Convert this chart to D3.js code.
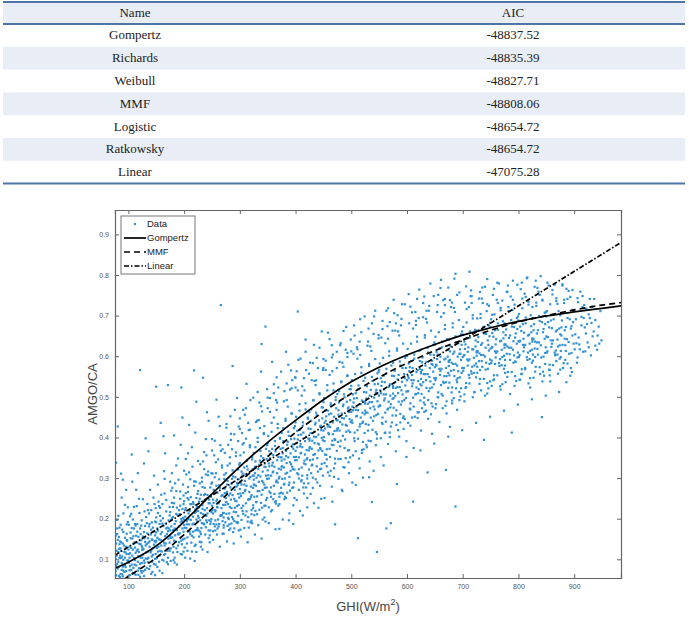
<!DOCTYPE html>
<html>
<head>
<meta charset="utf-8">
<script src="https://cdn.jsdelivr.net/npm/d3@7/dist/d3.min.js"></script>
<style>
  body { margin: 0; background: #fff; }
</style>
</head>
<body>
<svg id="chart" width="689" height="617"></svg>
<script>
// table
const modelNames = ["Gompertz", "Richards", "Weibull", "MMF", "Logistic", "Ratkowsky", "Linear"];
const modelAIC = ["-48837.52", "-48835.39", "-48827.71", "-48808.06", "-48654.72", "-48654.72", "-47075.28"];

// fitted curves: [GHI, AMGO/CA]
const gompertzCurve = [[76,.078],[100,.093],[125,.111],[150,.133],[175,.161],[200,.193],[250,.261],[300,.328],[350,.388],[400,.442],[450,.493],[500,.537],[550,.573],[600,.603],[650,.629],[700,.652],[750,.670],[800,.686],[850,.699],[900,.709],[950,.718],[984,.724]];
const mmfCurve = [[76,.036],[100,.058],[125,.080],[150,.104],[175,.131],[200,.161],[250,.225],[300,.290],[350,.353],[400,.412],[450,.463],[500,.508],[550,.548],[600,.583],[650,.614],[700,.640],[750,.664],[800,.684],[850,.700],[900,.714],[950,.726],[984,.732]];
const linearCurve = [[76,.110],[984,.880]];

// scatter, estimated from the figure: [GHI, AMGO/CA]
const dataPoints = [
[77,.071],[92,.134],[84,.103],[99,.058],[80,.162],[88,.091],[95,.117],[78,.139],[86,.064],[97,.186],[83,.126],[90,.082],[79,.109],[94,.153],[87,.121],[81,.077],[98,.097],[85,.144],[91,.213],[76,.088],[93,.069],[89,.173],[82,.118],[96,.131],[88,.252],[80,.197],[94,.104],[99,.228],[85,.056],[91,.099],[78,.338],[97,.147],[83,.082],[81,.427],[90,.296],[77,.158],[86,.185],
[123,.071],[104,.152],[117,.094],[101,.113],[112,.187],[108,.066],[120,.138],[103,.083],[115,.121],[110,.229],[125,.104],[106,.177],[118,.062],[102,.131],[114,.158],[121,.089],[107,.109],[111,.142],[124,.196],[105,.074],[116,.168],[100,.097],[113,.116],[119,.249],[109,.138],[122,.162],[103,.206],[117,.312],[106,.358],[111,.087],[121,.566],[114,.271],[101,.185],[108,.124],[124,.133],[119,.078],
[128,.097],[141,.173],[135,.119],[149,.142],[126,.156],[146,.088],[132,.204],[138,.131],[144,.111],[130,.182],[147,.236],[137,.076],[142,.149],[127,.125],[134,.164],[148,.193],[131,.102],[139,.271],[145,.128],[129,.218],[136,.141],[143,.094],[150,.166],[133,.138],[140,.117],[126,.248],[146,.306],[131,.398],[138,.187],[143,.069],[128,.336],[135,.152],[149,.113],[141,.221],[133,.079],
[153,.171],[166,.113],[158,.148],[172,.196],[151,.128],[169,.162],[161,.236],[155,.094],[174,.141],[163,.182],[157,.207],[170,.121],[152,.153],[165,.262],[159,.134],[173,.176],[156,.109],[168,.218],[162,.145],[150,.191],[171,.088],[160,.167],[154,.242],[167,.139],[175,.158],[158,.436],[164,.317],[150,.525],[171,.529],[153,.284],[166,.361],[161,.099],[174,.229],[156,.187],[169,.124],
[178,.201],[191,.142],[183,.176],[197,.224],[176,.153],[194,.191],[186,.268],[180,.117],[199,.168],[188,.209],[182,.238],[195,.146],[177,.181],[190,.296],[184,.159],[198,.202],[181,.131],[193,.249],[187,.172],[175,.216],[196,.112],[185,.194],[179,.276],[192,.164],[200,.185],[182,.405],[189,.348],[195,.523],[178,.312],[191,.221],[186,.127],[199,.257],[183,.104],[194,.382],[180,.229],
[203,.226],[216,.168],[208,.199],[222,.251],[201,.178],[219,.214],[211,.297],[205,.139],[224,.192],[213,.236],[207,.266],[220,.171],[202,.205],[215,.328],[209,.186],[223,.229],[206,.154],[218,.281],[212,.197],[200,.243],[221,.136],[210,.219],[204,.309],[217,.188],[225,.207],[209,.431],[214,.376],[218,.565],[203,.347],[222,.118],[211,.162],[206,.251],[220,.412],[216,.241],[201,.129],
[228,.249],[241,.191],[233,.224],[247,.277],[226,.202],[244,.238],[236,.322],[230,.162],[249,.216],[238,.261],[232,.291],[245,.196],[227,.228],[240,.356],[234,.211],[248,.254],[231,.177],[243,.307],[237,.221],[225,.268],[246,.159],[235,.244],[229,.334],[242,.213],[250,.232],[234,.547],[239,.396],[241,.462],[228,.143],[247,.187],[233,.278],[244,.441],[236,.186],[230,.259],[249,.312],
[253,.271],[266,.209],[258,.243],[272,.298],[251,.221],[269,.258],[261,.346],[255,.181],[274,.234],[263,.282],[257,.312],[270,.214],[252,.247],[265,.381],[259,.229],[273,.274],[256,.196],[268,.331],[262,.238],[250,.289],[271,.178],[260,.264],[254,.356],[267,.226],[275,.251],[266,.726],[258,.493],[264,.428],[252,.169],[271,.203],[256,.221],[263,.187],[269,.194],[259,.161],[273,.362],[255,.302],
[278,.293],[291,.227],[283,.262],[297,.321],[276,.241],[294,.279],[286,.371],[280,.199],[299,.252],[288,.304],[282,.336],[295,.231],[277,.266],[290,.408],[284,.247],[298,.297],[281,.213],[293,.354],[287,.258],[275,.312],[296,.192],[285,.286],[279,.382],[292,.244],[300,.273],[287,.576],[283,.452],[295,.497],[278,.182],[290,.176],[286,.204],[298,.171],[281,.186],[293,.216],[288,.167],[276,.424],[297,.391],
[303,.316],[316,.248],[308,.284],[322,.346],[301,.262],[319,.303],[311,.397],[305,.219],[324,.276],[313,.329],[307,.363],[320,.253],[302,.289],[315,.436],[309,.268],[323,.322],[306,.232],[318,.381],[312,.281],[300,.337],[321,.211],[310,.309],[304,.411],[317,.266],[325,.296],[312,.532],[319,.492],[306,.468],[314,.193],[322,.189],[303,.197],[316,.178],[309,.456],[324,.226],[301,.173],
[328,.341],[341,.271],[333,.307],[347,.372],[326,.284],[344,.328],[336,.423],[330,.241],[349,.298],[338,.354],[332,.389],[345,.276],[327,.312],[340,.464],[334,.291],[348,.347],[331,.255],[343,.408],[337,.304],[325,.362],[346,.232],[335,.333],[329,.438],[342,.289],[350,.319],[339,.630],[346,.673],[338,.562],[332,.512],[344,.203],[328,.219],[341,.198],[335,.486],[349,.251],[326,.209],
[353,.366],[366,.294],[358,.331],[372,.397],[351,.307],[369,.352],[361,.449],[355,.263],[374,.321],[363,.379],[357,.414],[370,.299],[352,.336],[365,.492],[359,.314],[373,.372],[356,.277],[368,.433],[362,.328],[350,.386],[371,.254],[360,.357],[354,.463],[367,.312],[375,.343],[358,.586],[366,.548],[371,.175],[363,.241],[352,.228],[369,.523],[356,.218],[374,.264],[361,.509],[365,.237],
[378,.391],[391,.318],[383,.354],[397,.423],[376,.329],[394,.377],[386,.476],[380,.286],[399,.344],[388,.404],[382,.441],[395,.322],[377,.361],[390,.518],[384,.337],[398,.397],[381,.299],[393,.459],[387,.351],[375,.411],[396,.277],[385,.382],[379,.489],[392,.334],[400,.367],[383,.611],[392,.565],[388,.196],[396,.233],[380,.248],[394,.541],[377,.262],[389,.289],[398,.251],[384,.533],
[403,.416],[416,.343],[408,.378],[422,.449],[401,.352],[419,.402],[411,.503],[405,.309],[424,.368],[413,.429],[407,.466],[420,.346],[402,.386],[415,.546],[409,.361],[423,.422],[406,.322],[418,.484],[412,.376],[400,.437],[421,.299],[410,.407],[404,.516],[417,.358],[425,.392],[404,.710],[418,.641],[409,.594],[413,.208],[421,.251],[406,.271],[423,.287],[415,.262],[402,.563],[419,.566],[411,.295],
[428,.441],[441,.368],[433,.402],[447,.474],[426,.376],[444,.427],[436,.529],[430,.333],[449,.393],[438,.455],[432,.491],[445,.371],[427,.411],[440,.571],[434,.386],[448,.447],[431,.346],[443,.509],[437,.401],[425,.462],[446,.323],[435,.432],[429,.541],[442,.383],[450,.417],[433,.628],[447,.661],[441,.227],[436,.297],[428,.312],[444,.281],[431,.276],[449,.306],[438,.596],[426,.584],
[453,.466],[466,.392],[458,.427],[472,.499],[451,.401],[469,.451],[461,.554],[455,.357],[474,.417],[463,.479],[457,.516],[470,.396],[452,.436],[465,.597],[459,.411],[473,.472],[456,.371],[468,.533],[462,.426],[450,.487],[471,.348],[460,.457],[454,.566],[467,.408],[475,.442],[458,.658],[466,.242],[471,.186],[463,.318],[452,.337],[469,.303],[456,.329],[474,.611],[461,.306],[465,.627],
[478,.486],[491,.414],[483,.448],[497,.519],[476,.423],[494,.471],[486,.574],[480,.378],[499,.438],[488,.499],[482,.536],[495,.417],[477,.456],[490,.616],[484,.432],[498,.492],[481,.392],[493,.553],[487,.447],[475,.507],[496,.369],[485,.477],[479,.586],[492,.429],[500,.463],[484,.268],[491,.672],[488,.326],[477,.347],[495,.339],[481,.632],[498,.351],[486,.327],[493,.608],
[503,.506],[516,.433],[508,.468],[522,.539],[501,.442],[519,.491],[511,.594],[505,.398],[524,.457],[513,.519],[507,.556],[520,.436],[502,.476],[515,.636],[509,.452],[523,.512],[506,.412],[518,.573],[512,.467],[500,.527],[521,.389],[510,.497],[504,.606],[517,.449],[525,.483],[508,.283],[516,.691],[512,.152],[503,.356],[519,.362],[506,.651],[522,.371],[514,.348],[510,.622],
[528,.526],[541,.452],[533,.487],[547,.558],[526,.461],[544,.511],[536,.613],[530,.417],[549,.476],[538,.539],[532,.576],[545,.455],[527,.496],[540,.655],[534,.472],[548,.532],[531,.431],[543,.593],[537,.487],[525,.547],[546,.408],[535,.517],[529,.626],[542,.469],[550,.503],[532,.302],[541,.698],[546,.118],[537,.241],[528,.376],[544,.381],[535,.391],[549,.644],[531,.668],
[553,.546],[566,.471],[558,.506],[572,.577],[551,.479],[569,.531],[561,.632],[555,.436],[574,.495],[563,.558],[557,.596],[570,.474],[552,.516],[565,.674],[559,.491],[573,.552],[556,.449],[568,.612],[562,.506],[550,.566],[571,.427],[560,.536],[554,.646],[567,.488],[575,.522],[558,.331],[566,.718],[563,.176],[571,.189],[553,.398],[569,.401],[556,.687],[561,.412],[574,.663],
[578,.564],[591,.489],[583,.524],[597,.596],[576,.497],[594,.549],[586,.651],[580,.454],[599,.513],[588,.577],[582,.614],[595,.492],[577,.534],[590,.692],[584,.509],[598,.571],[581,.467],[593,.631],[587,.524],[575,.584],[596,.445],[585,.554],[579,.663],[592,.506],[600,.541],[582,.285],[599,.352],[591,.728],[584,.418],[577,.706],[594,.421],[588,.437],[580,.681],
[603,.582],[616,.507],[608,.541],[622,.613],[601,.514],[619,.566],[611,.668],[605,.471],[624,.531],[613,.594],[607,.631],[620,.509],[602,.551],[615,.709],[609,.526],[623,.588],[606,.484],[618,.648],[612,.541],[600,.601],[621,.462],[610,.571],[604,.681],[617,.523],[625,.558],[611,.242],[624,.368],[618,.741],[602,.436],[614,.451],[621,.694],[606,.722],[609,.449],
[628,.597],[641,.521],[633,.556],[647,.628],[626,.528],[644,.581],[636,.683],[630,.486],[649,.546],[638,.609],[632,.646],[645,.523],[627,.566],[640,.724],[634,.541],[648,.603],[631,.498],[643,.663],[637,.556],[625,.616],[646,.476],[635,.586],[629,.696],[642,.538],[650,.573],[637,.314],[649,.385],[631,.747],[643,.457],[627,.472],[639,.712],[634,.466],
[653,.611],[666,.534],[658,.569],[672,.642],[651,.541],[669,.594],[661,.697],[655,.499],[674,.559],[663,.622],[657,.659],[670,.536],[652,.579],[665,.738],[659,.554],[673,.616],[656,.511],[668,.677],[662,.569],[650,.629],[671,.489],[660,.599],[654,.709],[667,.551],[675,.586],[670,.320],[674,.402],[660,.768],[664,.472],[652,.482],[668,.726],[656,.751],
[678,.624],[691,.546],[683,.581],[697,.654],[676,.553],[694,.606],[686,.709],[680,.511],[699,.571],[688,.634],[682,.671],[695,.548],[677,.591],[690,.751],[684,.566],[698,.628],[681,.523],[693,.689],[687,.581],[675,.641],[696,.501],[685,.611],[679,.721],[692,.563],[700,.598],[687,.230],[699,.418],[685,.791],[681,.484],[694,.492],[677,.738],[690,.536],
[703,.636],[716,.557],[708,.592],[722,.665],[701,.564],[719,.617],[711,.721],[705,.522],[724,.582],[713,.646],[707,.683],[720,.559],[702,.602],[715,.762],[709,.577],[723,.639],[706,.534],[718,.701],[712,.592],[700,.653],[721,.512],[710,.622],[704,.732],[717,.574],[725,.609],[712,.808],[724,.436],[706,.772],[718,.499],[703,.506],[714,.748],
[728,.647],[741,.567],[733,.603],[747,.676],[726,.574],[744,.790],[736,.731],[730,.532],[749,.592],[738,.656],[732,.694],[745,.569],[727,.612],[740,.771],[734,.588],[748,.649],[731,.544],[743,.711],[737,.603],[725,.663],[746,.521],[735,.632],[729,.742],[742,.584],[750,.619],[738,.394],[749,.451],[731,.758],[744,.508],[733,.516],[747,.724],
[753,.657],[766,.576],[758,.612],[772,.686],[751,.583],[769,.638],[761,.739],[755,.541],[774,.601],[763,.665],[757,.703],[770,.578],[752,.621],[765,.779],[759,.597],[773,.659],[756,.553],[768,.719],[762,.612],[750,.672],[771,.531],[760,.642],[754,.751],[767,.593],[775,.628],[774,.466],[756,.766],[768,.518],[752,.527],[763,.731],
[778,.666],[791,.584],[783,.621],[797,.694],[776,.591],[794,.646],[786,.747],[780,.549],[799,.609],[788,.673],[782,.711],[795,.586],[777,.629],[790,.786],[784,.605],[798,.667],[781,.561],[793,.727],[787,.621],[775,.681],[796,.539],[785,.651],[779,.758],[792,.602],[800,.637],[788,.412],[799,.481],[781,.774],[793,.527],[777,.536],[790,.739],
[803,.673],[816,.591],[808,.628],[822,.701],[801,.598],[819,.653],[811,.754],[805,.556],[824,.616],[813,.681],[807,.718],[820,.593],[802,.636],[815,.792],[809,.612],[823,.674],[806,.568],[818,.734],[812,.628],[800,.688],[821,.546],[810,.658],[804,.765],[817,.609],[825,.644],[824,.494],[806,.781],[818,.533],[802,.542],[813,.746],
[828,.679],[841,.597],[833,.634],[847,.707],[826,.604],[844,.659],[836,.759],[830,.562],[849,.622],[838,.687],[832,.724],[845,.599],[827,.642],[840,.797],[834,.618],[848,.679],[831,.574],[843,.739],[837,.634],[825,.694],[846,.552],[835,.664],[829,.771],[842,.450],[850,.649],[849,.503],[831,.786],[843,.538],[827,.547],[838,.751],
[853,.684],[866,.602],[858,.639],[872,.711],[851,.609],[869,.664],[861,.763],[855,.567],[874,.627],[863,.691],[857,.728],[870,.604],[852,.647],[865,.776],[859,.623],[873,.512],[856,.579],[868,.743],[862,.639],[850,.698],[871,.557],[860,.669],[854,.774],[867,.614],[875,.654],[856,.553],[868,.588],
[878,.688],[891,.606],[883,.643],[897,.714],[876,.613],[894,.668],[886,.766],[880,.571],[899,.631],[888,.694],[882,.731],[895,.608],[877,.651],[890,.761],[884,.627],[898,.684],[881,.583],[893,.746],[887,.642],[875,.701],[896,.561],[885,.672],[879,.777],[886,.536],
[903,.691],[916,.611],[908,.646],[922,.717],[901,.617],[919,.671],[911,.759],[905,.584],[924,.634],[913,.697],[907,.733],[920,.612],[902,.654],[915,.748],[909,.629],[923,.679],[906,.597],[918,.726],
[928,.694],[941,.616],[933,.649],[947,.711],[926,.622],[944,.673],[936,.741],[930,.602],[949,.639],[938,.689],[932,.722],[945,.631],[935,.661],
[79,.121],[95,.081],[83,.059],[91,.167],[87,.103],[76,.133],[98,.146],[82,.094],[89,.063],[93,.118],[80,.089],[96,.071],[84,.178],[90,.139],[77,.101],[97,.113],[86,.127],[92,.085],[81,.148],[99,.192],[88,.074],[94,.234],[85,.109],[78,.061],[96,.271],[83,.155],[90,.058],[87,.311],
[102,.073],[119,.118],[107,.151],[113,.062],[124,.091],[105,.128],[110,.103],[121,.176],[116,.141],[101,.092],[123,.147],[108,.198],[114,.085],[104,.166],[118,.108],[111,.065],[125,.123],[106,.087],[120,.214],[112,.129],[103,.115],[117,.072],[109,.157],[122,.104],[115,.231],[107,.291],[121,.057],[113,.183],
[126,.112],[139,.083],[148,.159],[131,.134],[144,.178],[127,.071],[136,.104],[149,.087],[133,.189],[141,.121],[129,.152],[146,.136],[137,.213],[128,.167],[143,.148],[132,.117],[150,.203],[135,.093],[140,.161],[125,.129],[145,.252],[138,.144],[130,.074],[147,.168],[134,.236],[142,.107],[136,.366],[148,.061],
[154,.131],[167,.188],[151,.103],[172,.151],[160,.119],[157,.227],[170,.178],[163,.097],[152,.176],[174,.208],[165,.134],[158,.162],[169,.093],[155,.149],[173,.126],[162,.201],[150,.146],[166,.157],[159,.259],[171,.169],[164,.111],[156,.072],[168,.246],[153,.214],[161,.188],[175,.291],[157,.121],[163,.403],
[179,.154],[192,.211],[176,.127],[197,.176],[185,.143],[182,.252],[195,.199],[188,.118],[177,.197],[199,.236],[190,.161],[183,.187],[194,.113],[180,.172],[198,.149],[187,.227],[175,.171],[191,.181],[184,.287],[196,.194],[189,.134],[181,.098],[193,.267],[178,.239],[186,.212],[200,.318],[182,.146],[197,.449],
[204,.177],[217,.236],[201,.151],[222,.198],[210,.168],[207,.278],[220,.223],[213,.141],[202,.221],[224,.261],[215,.186],[208,.213],[219,.133],[205,.194],[223,.172],[212,.253],[200,.198],[216,.205],[209,.314],[221,.217],[214,.158],[206,.121],[218,.292],[203,.263],[211,.236],[225,.342],[207,.169],[222,.488],
[229,.196],[242,.258],[226,.171],[247,.219],[235,.188],[232,.301],[245,.247],[238,.161],[227,.242],[249,.286],[240,.207],[233,.233],[244,.152],[230,.214],[248,.193],[237,.276],[225,.219],[241,.226],[234,.341],[246,.238],[239,.179],[231,.142],[243,.316],[228,.287],[236,.258],[250,.368],[232,.189],[247,.171],[240,.196],[229,.168],
[271,.214],[258,.281],[274,.191],[253,.239],[265,.207],[268,.326],[255,.269],[262,.181],[273,.263],[251,.311],[260,.228],[267,.256],[256,.171],[270,.234],[252,.213],[263,.297],[275,.241],[259,.247],[266,.367],[254,.261],[261,.198],[269,.163],[257,.339],[272,.308],[264,.276],[250,.396],[268,.208],[253,.187],[260,.176],[271,.184],[256,.218],
[279,.236],[292,.302],[276,.212],[297,.261],[285,.226],[282,.351],[295,.288],[288,.199],[277,.284],[299,.333],[290,.249],[283,.277],[294,.191],[280,.257],[298,.234],[287,.319],[275,.263],[291,.271],[284,.394],[296,.283],[289,.217],[281,.172],[293,.363],[278,.331],[286,.298],[300,.421],[282,.229],[297,.207],[290,.194],[279,.202],[294,.243],[285,.188],
[321,.258],[308,.326],[324,.233],[303,.284],[315,.247],[318,.376],[305,.311],[312,.218],[323,.306],[301,.356],[310,.271],[317,.299],[306,.212],[320,.279],[302,.256],[313,.343],[325,.284],[309,.293],[316,.418],[304,.304],[311,.238],[319,.191],[307,.386],[322,.352],[314,.321],[300,.447],[318,.248],[303,.226],[310,.208],[321,.221],[306,.263],[315,.204],
[329,.281],[342,.349],[326,.254],[347,.306],[335,.268],[332,.399],[345,.336],[338,.239],[327,.328],[349,.381],[340,.293],[333,.322],[344,.232],[330,.301],[348,.277],[337,.367],[325,.306],[341,.316],[334,.443],[346,.327],[339,.259],[331,.211],[343,.411],[328,.376],[336,.343],[350,.472],[332,.268],[347,.246],[340,.227],[329,.241],[344,.284],[335,.222],
[371,.303],[358,.372],[374,.276],[353,.329],[365,.291],[368,.423],[355,.359],[362,.261],[373,.351],[351,.404],[360,.316],[367,.344],[356,.254],[370,.323],[352,.299],[363,.391],[375,.328],[359,.338],[366,.468],[354,.349],[361,.281],[369,.232],[357,.436],[372,.399],[364,.366],[350,.498],[368,.289],[353,.267],[360,.248],[371,.262],[356,.306],[365,.243],
[379,.326],[392,.396],[376,.298],[397,.352],[385,.313],[382,.446],[395,.383],[388,.283],[377,.374],[399,.428],[390,.339],[383,.367],[394,.276],[380,.346],[398,.321],[387,.414],[375,.351],[391,.361],[384,.492],[396,.372],[389,.303],[381,.254],[393,.459],[378,.423],[386,.389],[400,.523],[382,.311],[397,.289],[390,.269],[379,.284],[394,.328],[385,.264],
[421,.349],[408,.419],[424,.321],[403,.376],[415,.336],[418,.469],[405,.406],[412,.306],[423,.397],[401,.451],[410,.362],[417,.391],[406,.299],[420,.369],[402,.344],[413,.437],[425,.374],[409,.384],[416,.516],[404,.395],[411,.326],[419,.277],[407,.482],[422,.446],[414,.412],[400,.547],[418,.334],[403,.312],[410,.292],[421,.307],[406,.351],[415,.287],
[429,.372],[442,.442],[426,.344],[447,.399],[435,.359],[432,.492],[445,.429],[438,.329],[427,.421],[449,.474],[440,.385],[433,.414],[444,.322],[430,.392],[448,.367],[437,.461],[425,.397],[441,.407],[434,.539],[446,.418],[439,.349],[431,.301],[443,.506],[428,.469],[436,.436],[450,.571],[432,.357],[447,.335],[440,.316],[429,.331],[444,.374],
[471,.394],[458,.466],[474,.367],[453,.422],[465,.382],[468,.516],[455,.452],[462,.352],[473,.444],[451,.497],[460,.408],[467,.437],[456,.346],[470,.416],[452,.391],[463,.484],[475,.421],[459,.431],[466,.563],[454,.441],[461,.372],[469,.324],[457,.529],[472,.492],[464,.459],[450,.593],[468,.381],[453,.358],
[479,.417],[492,.488],[476,.389],[497,.445],[485,.404],[482,.538],[495,.474],[488,.374],[477,.467],[499,.519],[490,.431],[483,.459],[494,.368],[480,.438],[498,.413],[487,.506],[475,.443],[491,.453],[484,.584],[496,.463],[489,.395],[481,.347],[493,.551],[478,.514],[486,.481],[500,.612],
[521,.439],[508,.509],[524,.411],[503,.467],[515,.427],[518,.559],[505,.496],[512,.397],[523,.488],[501,.541],[510,.453],[517,.482],[506,.391],[520,.461],[502,.436],[513,.528],[525,.466],[509,.476],[516,.603],[504,.486],[511,.418],[519,.369],
[529,.461],[542,.531],[526,.433],[547,.489],[535,.449],[532,.581],[545,.517],[538,.419],[527,.511],[549,.562],[540,.476],[533,.503],[544,.413],[530,.483],[548,.458],[537,.549],[525,.488],[541,.498],[534,.624],[546,.508],[539,.441],[531,.392],
[571,.482],[558,.552],[574,.454],[553,.509],[565,.469],[568,.601],[555,.537],[562,.439],[573,.531],[551,.582],[560,.496],[567,.524],[556,.433],[570,.503],[552,.478],[563,.569],[575,.508],[559,.518],[566,.643],[554,.527],[561,.461],[569,.412],
[579,.502],[592,.571],[576,.473],[597,.528],[585,.488],[582,.619],[595,.556],[588,.458],[577,.551],[599,.601],[590,.516],[583,.543],[594,.452],[580,.522],[598,.497],[587,.587],[575,.527],[591,.537],[584,.661],[596,.546],[589,.481],[581,.431],
[621,.519],[608,.588],[624,.491],[603,.546],[615,.506],[618,.636],[605,.573],[612,.476],[623,.569],[601,.618],[610,.533],[617,.561],[606,.469],[620,.539],[602,.514],[613,.604],[625,.544],[609,.554],[616,.677],[604,.563],[611,.498],[619,.448],
[629,.536],[642,.604],[626,.507],[647,.562],[635,.522],[632,.652],[645,.589],[638,.492],[627,.585],[649,.634],[640,.549],[633,.577],[644,.484],[630,.556],[648,.531],[637,.621],[625,.561],[641,.571],[634,.692],[646,.579],[639,.514],[631,.463],
[671,.551],[658,.619],[674,.522],[653,.577],[665,.537],[668,.667],[655,.604],[662,.507],[673,.599],[651,.648],[660,.564],[667,.592],[656,.499],[670,.571],[652,.546],[663,.636],[675,.576],[659,.586],[666,.706],[654,.593],[661,.529],[669,.478],
[679,.564],[692,.632],[676,.535],[697,.591],[685,.551],[682,.681],[695,.617],[688,.521],[677,.612],[699,.661],[690,.577],[683,.606],[694,.512],[680,.584],[698,.559],[687,.649],[675,.589],[691,.599],[684,.719],[696,.606],[689,.542],[681,.491],
[721,.577],[708,.644],[724,.548],[703,.603],[715,.563],[718,.693],[705,.629],[712,.533],[723,.624],[701,.672],[710,.589],[717,.617],[706,.524],[720,.596],[702,.571],[713,.661],[725,.601],[709,.611],[716,.731],[704,.618],[711,.554],
[729,.588],[742,.655],[726,.559],[747,.614],[735,.574],[732,.704],[745,.639],[738,.544],[727,.635],[749,.682],[740,.599],[733,.628],[744,.534],[730,.607],[748,.581],[737,.672],[725,.612],[741,.621],[734,.742],[746,.628],
[771,.598],[758,.664],[774,.569],[753,.623],[765,.583],[768,.713],[755,.648],[762,.553],[773,.644],[751,.691],[760,.608],[767,.637],[756,.543],[770,.616],[752,.589],[763,.681],[775,.621],[759,.629],
[779,.606],[792,.672],[776,.577],[797,.631],[785,.591],[782,.721],[795,.656],[788,.561],[777,.652],[799,.698],[790,.616],[783,.645],[794,.551],[780,.624],[798,.597],[787,.689],[775,.629],[791,.637],
[821,.613],[808,.679],[824,.584],[803,.638],[815,.598],[818,.727],[805,.662],[812,.568],[823,.659],[801,.704],[810,.622],[817,.651],[806,.557],[820,.631],[802,.603],[813,.695],[825,.636],[809,.643],
[829,.619],[842,.684],[826,.589],[847,.643],[835,.604],[832,.732],[845,.667],[838,.573],[827,.664],[849,.708],[840,.627],[833,.656],[844,.562],[830,.636],[848,.608],[837,.699],[825,.641],
[871,.624],[858,.688],[874,.594],[853,.647],[865,.609],[868,.736],[855,.671],[862,.578],[873,.668],[851,.711],[860,.631],[867,.661],[856,.566],[870,.641],[852,.612],
[879,.628],[892,.691],[876,.598],[897,.651],[885,.613],[882,.739],[895,.674],[888,.582],[877,.671],[899,.713],[890,.635],[883,.664],[894,.571],
[904,.632],[917,.694],[910,.617],[921,.656],[913,.676],[931,.682],[942,.651],[938,.626],[926,.703],
[78,.083],[84,.137],[91,.072],[97,.163],[102,.104],[109,.079],[116,.187],[122,.137],[128,.059],[134,.101],[141,.064],[147,.145],[80,.176],[87,.142],[94,.086],[100,.124],[105,.212],[112,.098],[118,.155],[124,.067],[130,.143],[137,.181],[143,.126],[149,.226],[76,.064],[82,.207],[89,.107],[95,.127],[103,.061],[110,.176],[117,.124],[123,.183],[129,.091],[135,.221],[142,.191],[148,.101],
[152,.081],[158,.195],[164,.141],[171,.104],[177,.269],[183,.092],[189,.163],[196,.137],[202,.104],[208,.247],[214,.119],[221,.291],[227,.156],[233,.124],[239,.309],[246,.142],[155,.231],[161,.066],[168,.176],[174,.121],[180,.204],[187,.087],[193,.232],[199,.119],[205,.186],[211,.102],[217,.154],[224,.177],[230,.131],[236,.364],[242,.118],[249,.199],[153,.119],[176,.096],[198,.284],[219,.096],[244,.171],[165,.298],[186,.331],[207,.361],
[252,.148],[258,.186],[264,.131],[271,.163],[277,.144],[283,.176],[289,.139],[296,.189],[302,.156],[308,.177],[314,.142],[321,.195],[327,.161],[333,.184],[339,.151],[346,.193],
[255,.392],[262,.451],[269,.371],[276,.433],[284,.409],[291,.468],[298,.427],[305,.383],[311,.472],[318,.419],[324,.498],[331,.441],[338,.477],[344,.428],[349,.519],
[352,.189],[358,.221],[364,.174],[371,.236],[377,.198],[383,.251],[389,.213],[396,.187],[402,.246],[408,.219],[414,.277],[421,.228],[427,.261],[433,.238],[439,.289],[446,.249],
[354,.497],[361,.531],[367,.486],[374,.562],[380,.514],[387,.579],[393,.521],[399,.548],[405,.591],[412,.526],[418,.611],[424,.557],[431,.583],[437,.541],[443,.621],[449,.566],
[452,.251],[458,.314],[465,.279],[471,.336],[477,.298],[483,.271],[490,.349],[496,.312],[502,.289],[508,.366],[515,.324],[521,.301],[527,.382],[533,.341],[540,.318],[546,.397],
[454,.589],[461,.642],[467,.604],[474,.571],[480,.627],[486,.662],[493,.598],[499,.641],[505,.676],[511,.617],[518,.659],[524,.698],[530,.636],[537,.681],[543,.712],[549,.652],
[553,.352],[560,.411],[566,.384],[573,.437],[580,.366],[586,.402],[593,.448],[599,.391],[606,.429],[612,.374],[619,.462],[625,.417],[632,.481],[638,.446],[645,.409],[651,.472],[658,.438],[664,.503],[671,.459],[677,.426],[684,.497],[690,.468],[697,.521],
[556,.667],[563,.712],[569,.684],[576,.739],[583,.701],[589,.676],[596,.728],[603,.753],[609,.708],[616,.687],[622,.764],[629,.731],[635,.712],[642,.779],[648,.748],[655,.726],[661,.788],[668,.741],[674,.769],[681,.732],[687,.803],[694,.757],
[703,.489],[712,.547],[721,.511],[731,.566],[740,.503],[749,.538],[758,.581],[767,.526],[776,.559],[785,.507],[794,.587],[803,.542],[812,.571],[821,.523],[830,.598],[839,.556],[848,.581],[857,.538],[866,.604],[875,.567],[884,.591],[893,.552],
[707,.716],[716,.748],[726,.693],[735,.769],[744,.728],[753,.702],[762,.781],[771,.737],[780,.759],[789,.714],[798,.776],[807,.742],[816,.794],[825,.721],[834,.768],[843,.737],[852,.781],[861,.752],[870,.729],[879,.774],[888,.741],[897,.763],[906,.743],[915,.721],[928,.741]
];

const xTicks = [100, 200, 300, 400, 500, 600, 700, 800, 900];
const yTicks = [0.1, 0.2, 0.3, 0.4, 0.5, 0.6, 0.7, 0.8, 0.9];
const legendLabels = ["Data", "Gompertz", "MMF", "Linear"];

const svg = d3.select("#chart");

// ---- table ----
const tbl = svg.append("g").attr("class", "table");
const rowH = 22.8, headTop = 2, headH = 22;
const colX = [135, 513];
const lineColor = "#4f74a6";
const bandColor = "#e9eef6";

tbl.append("rect").attr("x", 3).attr("y", headTop).attr("width", 682).attr("height", headH).attr("fill", bandColor);
modelNames.forEach((n, i) => {
  if (i % 2 === 1) {
    tbl.append("rect").attr("x", 3).attr("y", headTop + headH + i * rowH).attr("width", 682).attr("height", rowH).attr("fill", bandColor);
  }
});
const bottomY = headTop + headH + modelNames.length * rowH;
[headTop, headTop + headH, bottomY].forEach(yy => {
  tbl.append("line").attr("x1", 3).attr("x2", 685).attr("y1", yy).attr("y2", yy)
    .attr("stroke", lineColor).attr("stroke-width", 2);
});

const tfont = "'Liberation Serif', 'Times New Roman', serif";
tbl.selectAll("text.head").data(["Name", "AIC"]).join("text")
  .attr("class", "head")
  .attr("x", (d, i) => colX[i]).attr("y", headTop + headH / 2 + 1)
  .text(d => d);
const row = tbl.selectAll("g.row").data(modelNames).join("g")
  .attr("class", "row")
  .attr("transform", (d, i) => `translate(0,${headTop + headH + i * rowH + rowH / 2 + 1})`);
row.append("text").attr("x", colX[0]).text(d => d);
row.append("text").attr("x", colX[1]).text((d, i) => modelAIC[i]);
tbl.selectAll("text")
  .attr("text-anchor", "middle").attr("dominant-baseline", "middle")
  .style("font-family", tfont).style("font-size", "13px").style("fill", "#222");

// ---- scatter plot ----
const x = d3.scaleLinear().domain([76, 984]).range([115, 621]);
const y = d3.scaleLinear().domain([0.054, 0.96]).range([578, 210]);

svg.append("defs").append("clipPath").attr("id", "plotClip")
  .append("rect").attr("x", 115).attr("y", 210).attr("width", 506).attr("height", 368);

const dotColor = "#3291d3";
const plot = svg.append("g").attr("clip-path", "url(#plotClip)");
plot.selectAll("rect.pt").data(dataPoints).join("rect")
  .attr("class", "pt")
  .attr("x", d => x(d[0]) - 1.1).attr("y", d => y(d[1]) - 1.1)
  .attr("width", 2.2).attr("height", 2.2)
  .attr("fill", dotColor);

const line = d3.line().x(d => x(d[0])).y(d => y(d[1])).curve(d3.curveMonotoneX);
const curves = [
  { data: gompertzCurve, dash: null },
  { data: mmfCurve, dash: "6,4" },
  { data: linearCurve, dash: "5,2,1.5,2" }
];
plot.selectAll("path.fit").data(curves).join("path")
  .attr("class", "fit")
  .attr("d", d => line(d.data))
  .attr("fill", "none").attr("stroke", "#000").attr("stroke-width", 1.7)
  .attr("stroke-dasharray", d => d.dash);

// axes (MATLAB style: inward ticks on all sides)
const axisColor = "#666";
const font = "'Liberation Sans', Arial, sans-serif";
const gx = svg.append("g").attr("transform", "translate(0,578)")
  .call(d3.axisBottom(x).tickValues(xTicks).tickSize(-4).tickPadding(6));
const gxt = svg.append("g").attr("transform", "translate(0,210)")
  .call(d3.axisTop(x).tickValues(xTicks).tickSize(-4).tickFormat(""));
const gy = svg.append("g").attr("transform", "translate(115,0)")
  .call(d3.axisLeft(y).tickValues(yTicks).tickSize(-4).tickPadding(6).tickFormat(d3.format(".1f")));
const gyr = svg.append("g").attr("transform", "translate(621,0)")
  .call(d3.axisRight(y).tickValues(yTicks).tickSize(-4).tickFormat(""));
[gx, gxt, gy, gyr].forEach(g => {
  g.select(".domain").attr("stroke", axisColor).attr("stroke-width", 1.2);
  g.selectAll(".tick line").attr("stroke", axisColor);
  g.selectAll("text").style("font-family", font).style("font-size", "7px").style("fill", "#555");
});

svg.append("text")
  .attr("transform", "translate(97,394) rotate(-90)")
  .attr("text-anchor", "middle")
  .style("font-family", font).style("font-size", "13px").style("fill", "#444")
  .text("AMGO/CA");
const xl = svg.append("text")
  .attr("x", 368).attr("y", 611)
  .attr("text-anchor", "middle")
  .style("font-family", font).style("font-size", "13px").style("fill", "#444");
xl.append("tspan").text("GHI(W/m");
xl.append("tspan").attr("dy", -6).style("font-size", "9px").text("2");
xl.append("tspan").attr("dy", 6).text(")");

// legend
const lg = svg.append("g").attr("transform", "translate(121,216)");
lg.append("rect").attr("width", 74).attr("height", 58)
  .attr("fill", "#fff").attr("stroke", "#777").attr("stroke-width", 1);
const item = lg.selectAll("g.item").data(legendLabels).join("g")
  .attr("class", "item")
  .attr("transform", (d, i) => `translate(0,${8 + i * 14})`);
item.append("text").attr("x", 26).attr("y", 0).attr("dominant-baseline", "middle")
  .style("font-family", font).style("font-size", "9.5px").style("fill", "#222")
  .text(d => d);
item.filter((d, i) => i === 0).append("rect")
  .attr("x", 13).attr("y", -1).attr("width", 2).attr("height", 2).attr("fill", dotColor);
item.filter((d, i) => i > 0).append("line")
  .attr("x1", 3).attr("x2", 25).attr("y1", 0).attr("y2", 0)
  .attr("stroke", "#000").attr("stroke-width", 1.7)
  .attr("stroke-dasharray", (d, i) => curves[i].dash);
</script>
</body>
</html>
